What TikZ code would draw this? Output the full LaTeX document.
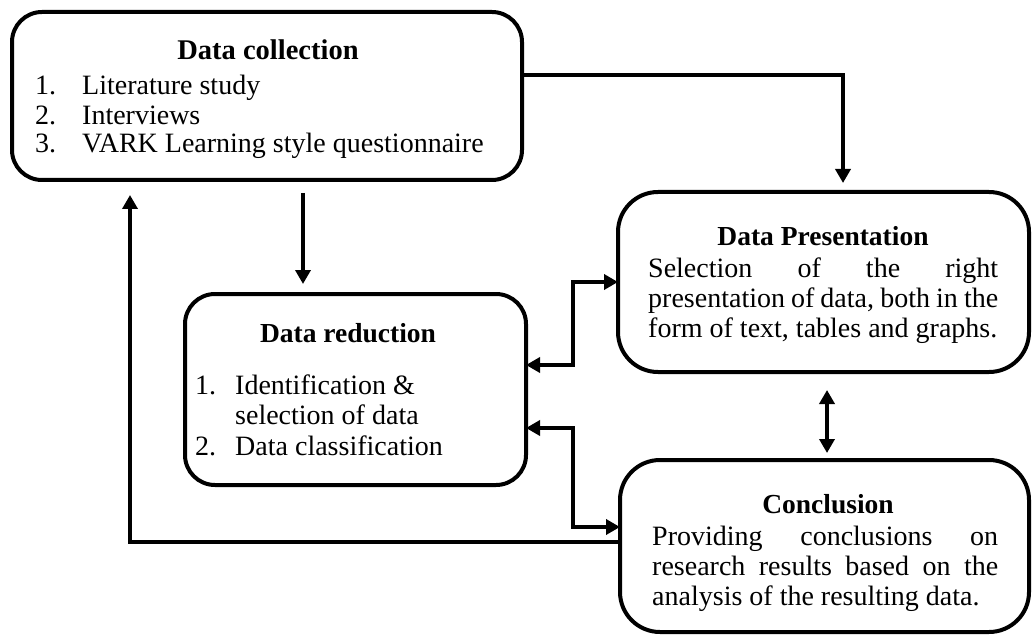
\documentclass[tikz,border=0pt]{standalone}
\usepackage{fontspec}
\setmainfont{Liberation Serif}
\usetikzlibrary{arrows.meta,calc}
\begin{document}
\begin{tikzpicture}[x=1pt,y=-1pt,
  box/.style={draw=black,line width=4pt,inner sep=0pt,outer sep=0pt},
  arr/.style={line width=4pt,-{Triangle[length=14pt,width=15pt]}},
  arrb/.style={line width=4pt,{Triangle[length=14pt,width=15pt]}-{Triangle[length=14pt,width=15pt]}},
  ttl/.style={font=\fontsize{27.5}{30}\selectfont\bfseries,anchor=base,inner sep=0pt},
  txt/.style={font=\fontsize{28}{30}\selectfont,anchor=base west,inner sep=0pt}]
\useasboundingbox (0,0) rectangle (1032,636);
% boxes
\node[box,rounded corners=30pt,minimum width=510pt,minimum height=168pt] (collect) at (267,96) {};
\node[box,rounded corners=30pt,minimum width=341pt,minimum height=191pt] (reduce) at (355.5,389.5) {};
\node[box,rounded corners=40pt,minimum width=411pt,minimum height=180pt] (present) at (823.5,282) {};
\node[box,rounded corners=40pt,minimum width=409pt,minimum height=172pt] (concl) at (824.5,546) {};
% texts: data collection
\node[ttl,font=\fontsize{28.5}{30}\selectfont\bfseries] (t1) at (268,60) {Data collection};
\node[txt] (c1n) at (35,95) {1.};
\node[txt] (c1) at (82,95) {Literature study};
\node[txt] (c2n) at (35,125) {2.};
\node[txt] (c2) at (82,125) {Interviews};
\node[txt] (c3n) at (35,153) {3.};
\node[txt] (c3) at (82,153) {VARK Learning style questionnaire};
% data reduction
\node[ttl] (t2) at (348,342) {Data reduction};
\node[txt] (r1n) at (195,394) {1.};
\node[txt] (r1) at (235,394) {Identification \&};
\node[txt] (r1b) at (235,424) {selection of data};
\node[txt] (r2n) at (195,455) {2.};
\node[txt] (r2) at (235,455) {Data classification};
% data presentation
\node[ttl] (t3) at (823,245) {Data Presentation};
\node[txt] (p1) at (648,277) {\makebox[350pt][s]{Selection of the right}};
\node[txt] (p2) at (648,307) {\makebox[350pt][s]{presentation of data, both in the}};
\node[txt] (p3) at (648,337) {form of text, tables and graphs.};
% conclusion
\node[ttl] (t4) at (828,513) {Conclusion};
\node[txt] (k1) at (652,545) {\makebox[346pt][s]{Providing conclusions on}};
\node[txt] (k2) at (652,575) {\makebox[346pt][s]{research results based on the}};
\node[txt] (k3) at (652,605) {analysis of the resulting data.};
% connectors
\coordinate (h1) at (843,75);
\draw[arr,shorten >=9pt] (h1 -| collect.east) -- (h1) -- (h1 |- present.north);
\coordinate (a1) at (303,0);
\draw[arr,shorten <=13pt,shorten >=10pt] (a1 |- collect.south) -- (a1 |- reduce.north);
\coordinate (fb) at (130,542);
\draw[arr,shorten >=15pt] (fb -| concl.west) -- (fb) -- (fb |- collect.south);
\coordinate (v1) at (573,282);
\coordinate (v2) at (573,365);
\draw[arrb] (v2 -| reduce.east) -- (v2) -- (v1) -- (v1 -| present.west);
\coordinate (v3) at (573,428);
\coordinate (v4) at (573,527);
\draw[arrb] (v3 -| reduce.east) -- (v3) -- (v4) -- (v4 -| concl.west);
\coordinate (v5) at (827,0);
\draw[arrb,shorten <=18pt,shorten >=7pt] (v5 |- present.south) -- (v5 |- concl.north);
\end{tikzpicture}
\end{document}
